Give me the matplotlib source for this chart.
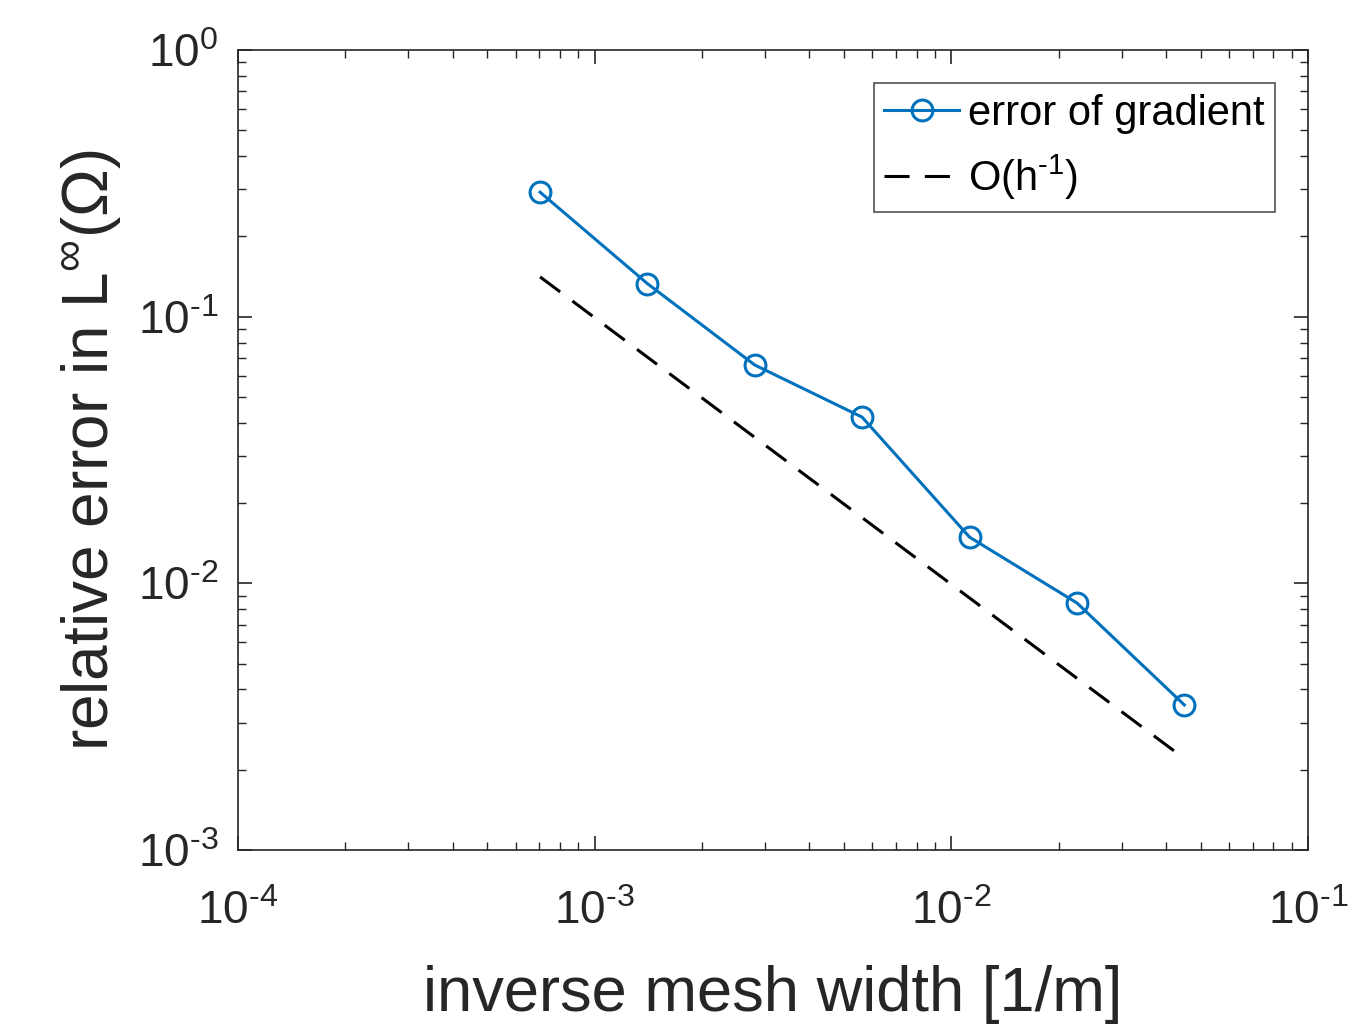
import numpy as np
import matplotlib.pyplot as plt

plt.rcParams['font.family'] = ['Liberation Sans', 'DejaVu Sans']
plt.rcParams['mathtext.fontset'] = 'custom'
plt.rcParams['mathtext.rm'] = 'Liberation Sans'
plt.rcParams['mathtext.it'] = 'Liberation Sans'
plt.rcParams['mathtext.bf'] = 'Liberation Sans'

# data
inv_h = [7.03e-4, 1.406e-3, 2.81e-3, 5.62e-3, 1.125e-2, 2.25e-2, 4.5e-2]
err_grad = [0.293, 0.133, 0.0659, 0.0420, 0.0149, 0.00844, 0.0035]
ref_c = 0.141  # reference line value at first point

x_ticks = [1e-4, 1e-3, 1e-2, 1e-1]
x_labels = [r'$10^{\text{-}4}$', r'$10^{\text{-}3}$', r'$10^{\text{-}2}$', r'$10^{\text{-}1}$']
y_ticks = [1e-3, 1e-2, 1e-1, 1e0]
y_labels = [r'$10^{\text{-}3}$', r'$10^{\text{-}2}$', r'$10^{\text{-}1}$', r'$10^{0}$']

ref_line = [ref_c * inv_h[0] / v for v in inv_h]

fig = plt.figure(figsize=(13.48, 10.25), dpi=100)
ax = fig.add_axes([238 / 1348, 1 - 850 / 1025, 1070 / 1348, 800 / 1025])

ax.loglog(inv_h, err_grad, '-o', color='#0072BD', lw=2.2, ms=15,
          mfc='none', mew=2.2, label='error of gradient')
ax.loglog(inv_h, ref_line, '--', color='black', lw=2.2, dashes=(8.2, 5),
          label=r'O(h$^{\text{-}1}$)')

ax.set_xlim(1e-4, 1e-1)
ax.set_ylim(1e-3, 1e0)
ax.set_xticks(x_ticks)
ax.set_xticklabels(x_labels)
ax.set_yticks(y_ticks)
ax.set_yticklabels(y_labels)

ax.tick_params(which='both', direction='in', top=True, right=True,
               colors='#262626', labelsize=33)
ax.tick_params(which='major', length=10, width=1.2)
ax.tick_params(which='minor', length=6, width=1.0)
ax.tick_params(axis='x', pad=29)
ax.tick_params(axis='y', pad=14)
for s in ax.spines.values():
    s.set_color('#262626')
    s.set_linewidth(1.2)

ax.set_xlabel('inverse mesh width [1/m]', fontsize=45.5, color='#262626', labelpad=22)
ax.set_ylabel(r'relative error in L$^{\infty}$($\Omega$)', fontsize=46,
              color='#262626', labelpad=11)

leg = ax.legend(loc='upper right', fontsize=30, frameon=True, fancybox=False,
                edgecolor='#262626', handlelength=1.8, handletextpad=0.2,
                borderaxespad=0.8, borderpad=0.25, labelspacing=0.45)
leg.get_frame().set_linewidth(1.2)

plt.savefig('out.png', dpi=100)
